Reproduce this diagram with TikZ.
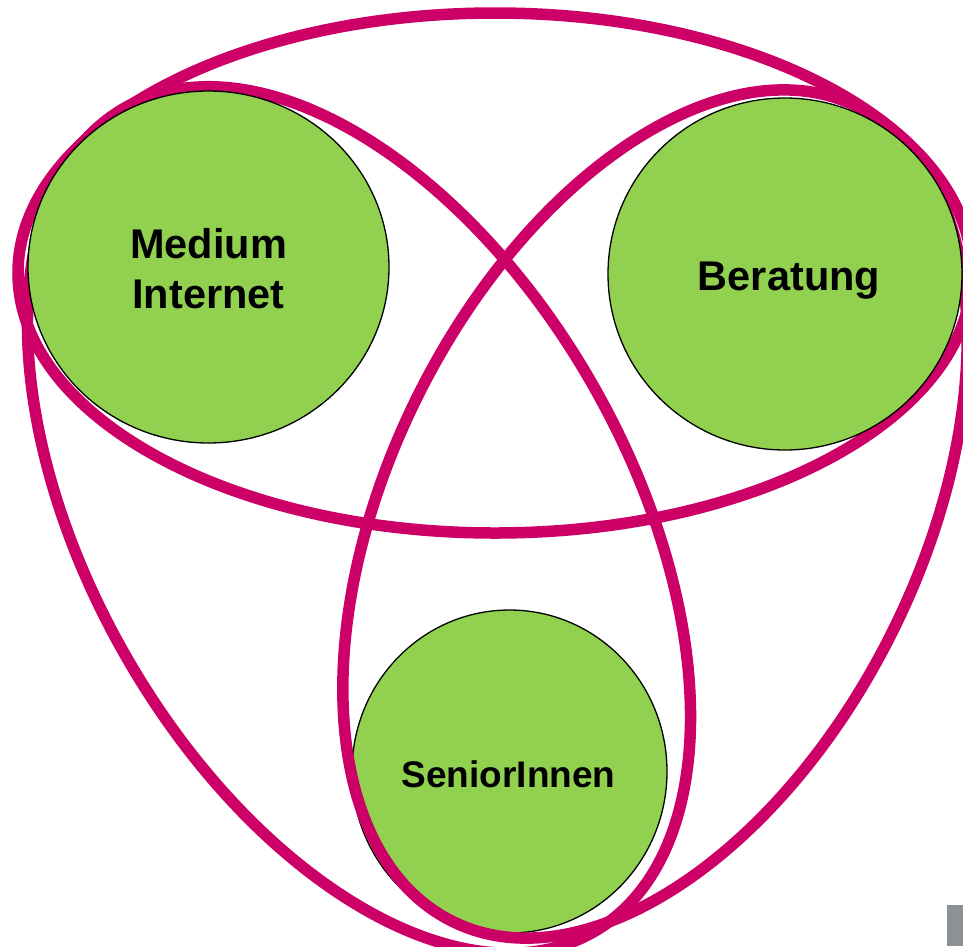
\documentclass[tikz,border=0pt]{standalone}
\usepackage{fontspec}
\setmainfont{Liberation Sans}
\usetikzlibrary{shapes.geometric}
\definecolor{ringmagenta}{HTML}{CC0066}
\definecolor{topicgreen}{HTML}{92D050}
\definecolor{markgray}{HTML}{8A9197}
\begin{document}
% coordinates in px, origin top left, y pointing down
\begin{tikzpicture}[x=1pt,y=-1pt,
  topic/.style={ellipse, draw=black, line width=1.3pt, fill=topicgreen, inner sep=0pt},
  ring/.style={draw=ringmagenta, line width=11.5pt},
  topictext/.style={font=\bfseries\fontsize{41.5}{50}\selectfont, anchor=base, inner sep=0pt},
  smalltopictext/.style={topictext, font=\bfseries\fontsize{37}{44}\selectfont}
]
\useasboundingbox (0,0) rectangle (963,946);

% lower disc, lying under the rings
\node[topic, minimum width=315, minimum height=323] (senioren) at (509.5,771.5) {};

% wide ring round Medium Internet and Beratung
\draw[ring] (495,273) ellipse [x radius=477, y radius=260];

% ring round Medium Internet and SeniorInnen
\draw[ring, rotate around={-60.4:(359,520)}] (359,520) ellipse [x radius=474, y radius=270];

% ring round Beratung and SeniorInnen
\draw[ring, rotate around={63.5:(655,514)}] (655,514) ellipse [x radius=455, y radius=265];

% upper discs, lying over the rings
\node[topic, minimum width=361, minimum height=352] (internet) at (208.5,267) {};
\node[topic, minimum width=354, minimum height=352] (beratung) at (785,274) {};

% titles
\node[topictext] (internetA) at (208.5,258) {Medium};
\node[topictext] (internetB) at (208.5,308) {Internet};
\node[topictext] (beratungT) at (789,290) {Beratung};
\node[smalltopictext] (seniorenT) at (508.5,787) {SeniorInnen};

% small grey tab in the corner
\fill[markgray] (947,905) rectangle (963,946);
\end{tikzpicture}
\end{document}
